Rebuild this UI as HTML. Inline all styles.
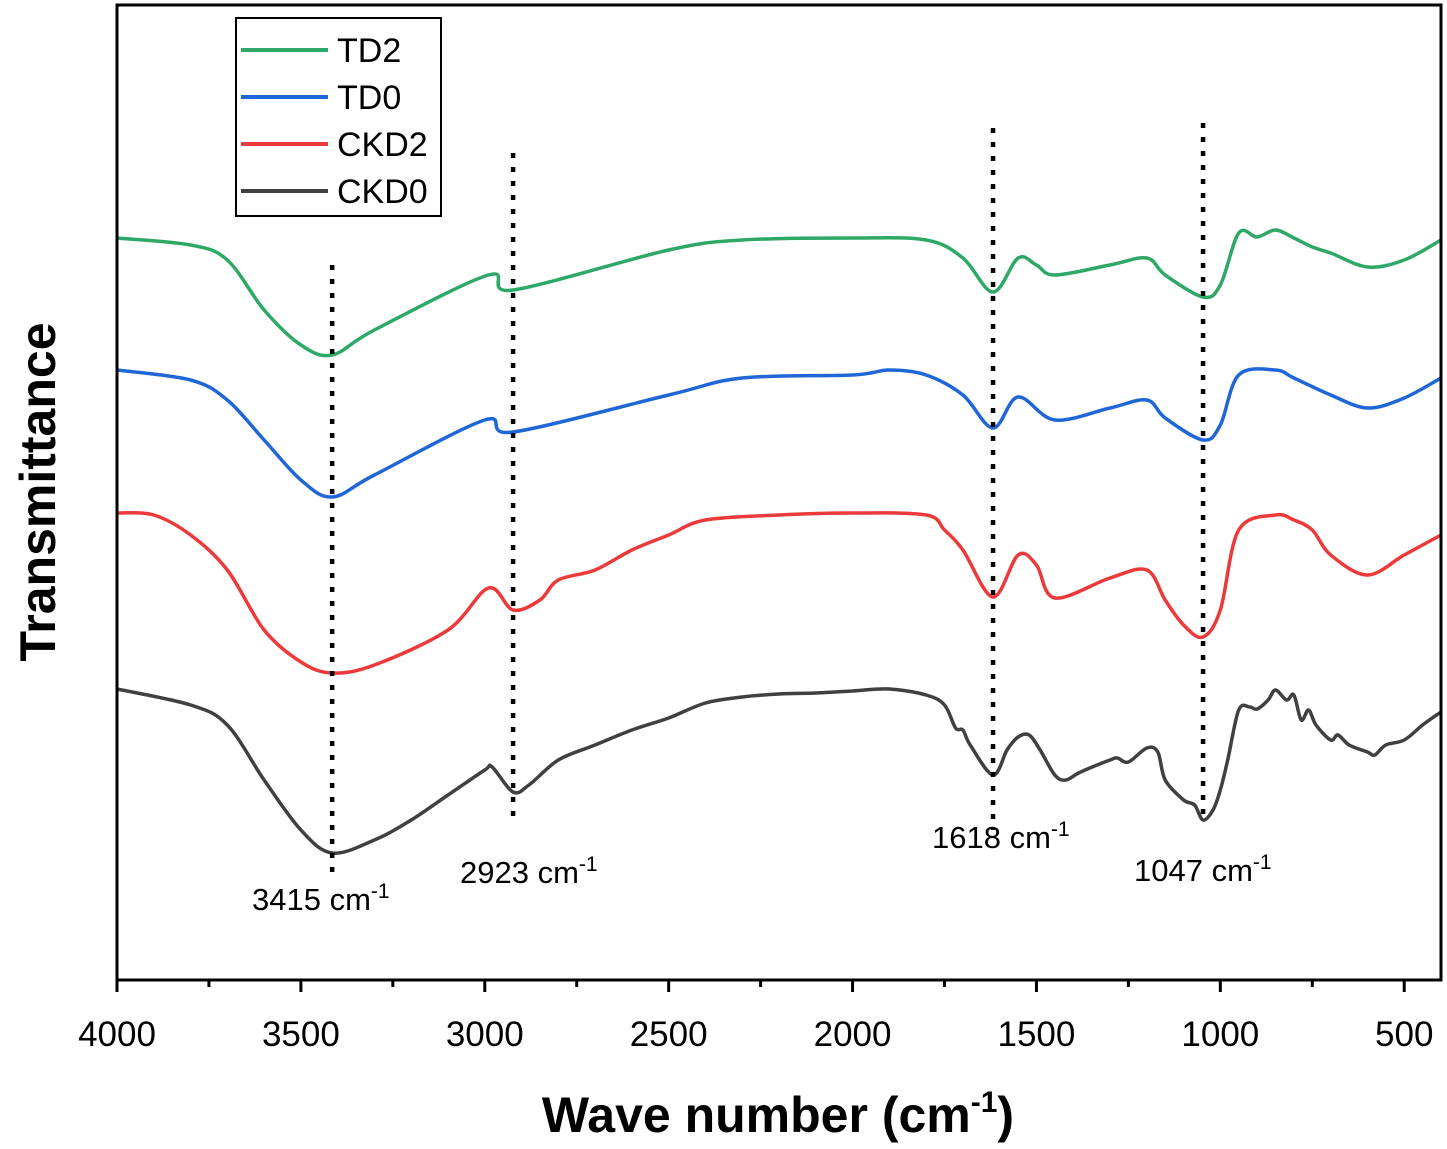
<!DOCTYPE html>
<html><head><meta charset="utf-8"><style>
html,body{margin:0;padding:0;background:#fff;}
svg{display:block;font-family:"Liberation Sans",Arial,sans-serif;}
</style></head><body>
<svg id="chart" width="1447" height="1149" viewBox="0 0 1447 1149"></svg>
<script>
// Wavenumbers (cm-1) and transmittance (arbitrary units, offset per series)
const wnCKD0=[4000,3800,3700,3600,3500,3415,3300,3200,3100,3000,2980,2923,2880,2800,2700,2600,2500,2400,2300,2200,2100,2000,1900,1800,1750,1720,1700,1680,1618,1580,1550,1520,1490,1450,1420,1380,1300,1280,1250,1200,1170,1150,1100,1070,1047,1020,1000,980,950,920,900,870,850,820,800,780,760,740,700,680,650,600,580,550,500,450,400];
const tCKD0=[291,275,255,200,150,127,140,160,185,210,213,188,195,220,235,250,262,277,283,286,287,289,291,285,275,252,250,235,205,230,243,245,230,205,200,208,220,222,218,232,228,200,180,175,160,170,190,220,270,273,271,280,290,280,285,260,270,255,240,245,235,228,225,235,240,255,268];
const wnCKD2=[4000,3900,3800,3700,3600,3500,3415,3300,3100,2990,2923,2850,2800,2700,2600,2500,2400,2200,2000,1800,1750,1700,1618,1550,1500,1450,1300,1200,1150,1100,1047,1000,950,850,800,750,700,600,500,400];
const tCKD2=[467,465,445,410,350,318,307,315,350,392,370,380,400,410,430,445,460,465,467,465,450,430,383,425,415,382,402,410,380,355,343,370,450,465,460,450,425,405,425,445];
const wnTD0=[4000,3800,3700,3600,3500,3415,3300,3000,2923,2500,2300,2000,1900,1800,1700,1618,1550,1450,1300,1200,1150,1047,1000,950,850,800,700,600,500,400];
const tTD0=[610,600,580,540,500,483,505,560,548,585,602,605,610,605,585,552,583,560,572,580,562,540,555,605,610,602,585,572,582,602];
const wnTD2=[4000,3800,3700,3600,3500,3415,3300,2990,2923,2500,2300,2000,1800,1700,1618,1550,1500,1450,1300,1200,1150,1047,1000,950,900,850,800,750,700,600,500,400];
const tTD2=[742,735,720,670,635,625,650,705,690,730,740,742,740,722,688,722,715,705,715,722,705,683,695,747,743,750,742,733,727,713,720,740];
const peaks=[3415,2923,1618,1047];
const peakLabels=["3415 cm","2923 cm","1618 cm","1047 cm"];
const xTicks=[4000,3500,3000,2500,2000,1500,1000,500];
const legendNames=["TD2","TD0","CKD2","CKD0"];
const colors=["#2ea866","#1f66d6","#ec3a3a","#404040"];

const L=117,R=1441,T=5,B=980;
const X=w=>L+(4000-w)*(R-L)/3600;
const Y=v=>B-v;
const svg=document.getElementById('chart');
const NS='http://www.w3.org/2000/svg';
function mk(tag,attrs,parent){const e=document.createElementNS(NS,tag);for(const k in attrs)e.setAttribute(k,attrs[k]);(parent||svg).appendChild(e);return e;}
function smooth(pts){
  let d='M'+pts[0][0].toFixed(1)+','+pts[0][1].toFixed(1);
  for(let i=0;i<pts.length-1;i++){
    const p0=pts[i-1]||pts[i],p1=pts[i],p2=pts[i+1],p3=pts[i+2]||p2;
    const c1=[p1[0]+(p2[0]-p0[0])/6,p1[1]+(p2[1]-p0[1])/6];
    const c2=[p2[0]-(p3[0]-p1[0])/6,p2[1]-(p3[1]-p1[1])/6];
    d+=' C'+c1[0].toFixed(1)+','+c1[1].toFixed(1)+' '+c2[0].toFixed(1)+','+c2[1].toFixed(1)+' '+p2[0].toFixed(1)+','+p2[1].toFixed(1);
  }
  return d;
}

const series=[[wnTD2,tTD2],[wnTD0,tTD0],[wnCKD2,tCKD2],[wnCKD0,tCKD0]];
series.forEach((s,i)=>{
  const pts=s[0].map((w,j)=>[X(w),Y(s[1][j])]);
  const p=mk('path',{d:smooth(pts),fill:'none',stroke:colors[i],'stroke-width':3.5,'stroke-linejoin':'round'});
  
  
});

// peak dotted lines
const peakTop=[715,827,852,857];
const peakBot=[100,155,150,160];
const labPos=[[252,910],[460,883],[932,848],[1134,881]];
peaks.forEach((w,i)=>{
  const l=mk('line',{x1:X(w),x2:X(w),y1:Y(peakTop[i]),y2:Y(peakBot[i]),stroke:'#000','stroke-width':4.5,'stroke-dasharray':'5,9'});
  
  
  const t=mk('text',{x:labPos[i][0],y:labPos[i][1],'font-size':31,fill:'#000'});
  t.textContent=peakLabels[i];
  const sup=mk('tspan',{dy:-12,'font-size':21},t);sup.textContent='-1';
  
  
});

// frame
const fr=mk('rect',{x:L,y:T,width:R-L,height:B-T,fill:'none',stroke:'#000','stroke-width':3});



// ticks
for(let w=4000;w>=400;w-=250){
  const major=(w%500===0);
  const tk=mk('line',{x1:X(w),x2:X(w),y1:B,y2:B+(major?12:7),stroke:'#000','stroke-width':3});
  
  
}
xTicks.forEach(w=>{
  const t=mk('text',{x:X(w),y:1046,'font-size':35,'text-anchor':'middle',fill:'#000'});
  t.textContent=w;
  
  
});

// axis titles
const xt=mk('text',{x:778,y:1132,'font-size':50,'font-weight':'bold','text-anchor':'middle',fill:'#000'});
xt.textContent='Wave number (cm';
const xs=mk('tspan',{dy:-20,'font-size':30},xt);xs.textContent='-1';
const xe=mk('tspan',{dy:20},xt);xe.textContent=')';


const yt=mk('text',{x:0,y:0,'font-size':50,'font-weight':'bold','text-anchor':'middle',fill:'#000',transform:'translate(55,492) rotate(-90)'});
yt.textContent='Transmittance';



// legend
const lg=mk('g',{});


mk('rect',{x:236,y:18,width:205,height:198,fill:'#fff',stroke:'#000','stroke-width':2},lg);
legendNames.forEach((n,i)=>{
  const y=50+i*47;
  const g=mk('g',{},lg);
  
  
  mk('line',{x1:241,x2:328,y1:y,y2:y,stroke:colors[i],'stroke-width':4},g);
  const t=mk('text',{x:337,y:y+12,'font-size':34,fill:'#000'},g);
  t.textContent=n;
});
</script>
</body></html>
